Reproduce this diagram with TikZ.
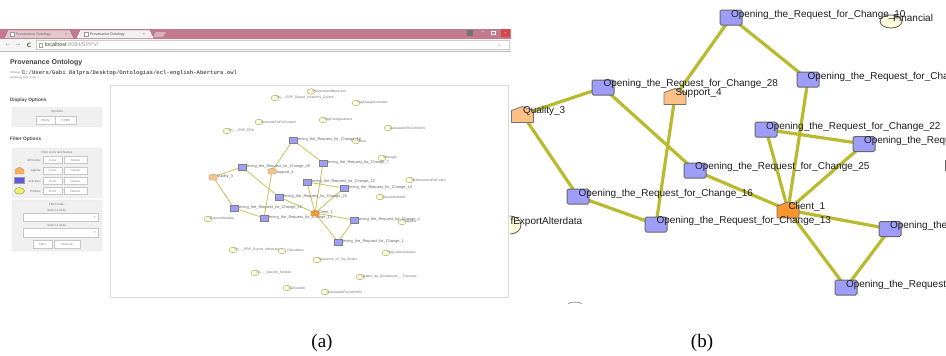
\documentclass[tikz,border=0pt]{standalone}
\usepackage{fontspec}
\setmainfont{Liberation Serif}
\newfontfamily\lsans{Liberation Sans}
\newfontfamily\lmono{Liberation Mono}
\newfontfamily\dejavu{DejaVu Sans}
\usetikzlibrary{calc,shapes.geometric}
\pgfdeclarelayer{bg}
\pgfdeclarelayer{edgelayer}
\pgfsetlayers{bg,edgelayer,main}
\definecolor{tabbar}{RGB}{196,122,142}
\definecolor{tabA}{RGB}{228,198,206}
\definecolor{tabB}{RGB}{244,238,240}
\definecolor{actblue}{RGB}{158,158,250}
\definecolor{legblue}{RGB}{90,90,230}
\definecolor{agentlt}{RGB}{253,192,135}
\definecolor{agentdk}{RGB}{248,150,48}
\definecolor{entfill}{RGB}{255,255,222}
\definecolor{entline}{RGB}{170,170,110}
\definecolor{legyel}{RGB}{240,240,110}
\definecolor{edgeol}{RGB}{186,186,48}
\definecolor{edgeAcol}{RGB}{200,200,105}
\definecolor{closered}{RGB}{214,72,72}
\newcommand\fsz[1]{\fontsize{#1}{#1}\selectfont}
\newcommand\agentB[3]{%
  \node[minimum width=22,minimum height=16] (#1) at (#2) {};
  \filldraw[fill=#3,draw=black!55,line width=0.8,line join=round]
    ($(#1)+(-11,8)$) -- ($(#1)+(11,8)$) -- ($(#1)+(11,-4)$) -- ($(#1)+(0,-8)$) -- ($(#1)+(-11,-4)$) -- cycle;}
\newcommand\agentA[3]{%
  \node[minimum width=8,minimum height=6] (#1) at (#2) {};
  \filldraw[fill=#3,draw=black!40,line width=0.4,line join=round]
    ($(#1)+(-4,3)$) -- ($(#1)+(4,3)$) -- ($(#1)+(4,-1.5)$) -- ($(#1)+(0,-3)$) -- ($(#1)+(-4,-1.5)$) -- cycle;}
\begin{document}
\begin{tikzpicture}[x=1pt,y=-1pt,
  every node/.style={inner sep=0pt,outer sep=0pt},
  tiny/.style={font=\lsans\fsz{3},text=black!55},
  btn/.style={draw=black!22,fill=white,line width=0.4,font=\lsans\fsz{3},text=black!50},
  optbox/.style={draw=black!12,fill=black!6,line width=0.4,rounded corners=1},
  actA/.style={draw=black!50,fill=actblue,minimum width=8,minimum height=5.5,line width=0.4},
  entA/.style={ellipse,draw=entline,fill=entfill,minimum width=8,minimum height=5.5,line width=0.5},
  lblA/.style={anchor=west,font=\lsans\fsz{3.9},text=black!60},
  elblA/.style={anchor=west,font=\lsans\fsz{3.4},text=black!55},
  edgeA/.style={draw=edgeAcol,line width=0.9},
  actB/.style={draw=black!60,fill=actblue,rounded corners=1.5,minimum width=22,minimum height=15,line width=1},
  entB/.style={ellipse,draw=black!65,fill=entfill,minimum width=22,minimum height=13,line width=0.8},
  lblB/.style={anchor=west,font=\lsans\fsz{10},text=black!88},
  edgeB/.style={draw=edgeol,line width=3.2},
  captxt/.style={font=\fsz{19}}]
\useasboundingbox (0,0) rectangle (946,356);
% ---------------- window chrome (a) ----------------
\begin{pgfonlayer}{bg}
\fill[white] (0,0) rectangle (946,356);
\fill[tabbar] (0,28.5) rectangle (511,38.5);
\filldraw[fill=tabA,draw=tabbar!70!black,line width=0.3] (4,38.5) -- (8,30) -- (70,30) -- (74,38.5) -- cycle;
\filldraw[fill=tabB,draw=tabbar!70!black,line width=0.3] (76,38.5) -- (80,30) -- (150,30) -- (154,38.5) -- cycle;
\fill[tabA!70!tabbar] (153,37) -- (156,32) -- (166,32) -- (163,37) -- cycle;
\fill[black!4] (0,38.5) rectangle (511,51);
\draw[black!25,line width=0.4] (0,51) -- (511,51);
\filldraw[fill=white,draw=black!20,line width=0.4] (36,40.5) rectangle (509,49.5);
\filldraw[fill=white,draw=black!15,line width=0.5] (110,85) rectangle (508,297);
\end{pgfonlayer}
% tabs
\node[draw=black!40,fill=white,minimum width=4,minimum height=4,line width=0.3] (fav1) at (12,34.3) {};
\node[anchor=west,font=\lsans\fsz{3.6},text=black!60] (tab1) at (16,34.3) {Provenance Ontology};
\node[font=\lsans\fsz{4},text=black!55] (x1) at (66,34.3) {×};
\node[draw=black!40,fill=white,minimum width=4,minimum height=4,line width=0.3] (fav2) at (86,34.3) {};
\node[anchor=west,font=\lsans\fsz{3.6},text=black!70] (tab2) at (90,34.3) {Provenance Ontology};
\node[font=\lsans\fsz{4},text=black!55] (x2) at (144,34.3) {×};
% window controls
\node[fill=black!55,minimum width=6,minimum height=6] (usr) at (470,33) {};
\node[font=\lsans\fsz{5},text=white] (min) at (483,33) {–};
\node[draw=white,minimum width=3.5,minimum height=3,line width=0.4] (max) at (493,33) {};
\node[fill=closered,minimum width=9,minimum height=8] (cls) at (505.5,33) {};
\node[font=\lsans\fsz{4},text=white] (clsx) at (505.5,33) {×};
% address bar
\node[font=\dejavu\fsz{5.5},text=black!35] (back) at (8,45) {←};
\node[font=\dejavu\fsz{5.5},text=black!35] (fwd) at (18,45) {→};
\node[font=\dejavu\bfseries\fsz{6},text=black!60] (rld) at (29,45) {C};
\node[draw=black!35,minimum width=3,minimum height=4,line width=0.3] (pg) at (41,45) {};
\node[anchor=west,font=\lsans\fsz{5.5},text=black!75] (url) at (45,45) {localhost\textcolor{black!40}{:8084/SPPV/}};
\node[font=\dejavu\fsz{6},text=black!35] (star) at (499,45) {☆};
% page header
\node[anchor=west,font=\lsans\bfseries\fsz{7},text=black!75] (title) at (10,63) {Provenance Ontology};
\node[anchor=west,font=\lsans\fsz{2.6},text=black!55] (ontl) at (10,73.3) {Ontology:};
\node[anchor=west,font=\lmono\bfseries\fsz{5.6},text=black!65] (path) at (22,73) {C:/Users/Gabi Dalpra/Desktop/Ontologias/ecl-english-Abertura.owl};
\node[anchor=west,font=\lsans\fsz{2.6},text=black!55] (rend) at (10,77.8) {Rendering Time: 1.121 s};
% display options
\node[anchor=west,font=\lsans\bfseries\fsz{4.8},text=black!70] (dopt) at (10,100) {Display Options};
\draw[optbox] (12,107.5) rectangle (102,126.5);
\node[tiny] (sym) at (57,112) {Symbols};
\node[btn,minimum width=19,minimum height=8] (prov) at (45.5,120) {PROV};
\node[btn,minimum width=21,minimum height=8] (epms) at (66,120) {EPMS};
% filter options
\node[anchor=west,font=\lsans\bfseries\fsz{4.8},text=black!70] (fopt) at (10,139) {Filter Options};
\draw[optbox] (12,148) rectangle (102,197.5);
\node[tiny] (fin) at (57,152.5) {Filter Icons and Names};
\foreach \i/\y/\t in {1/160/All Nodes:,2/170.5/Agents:,3/181/Activities:,4/191/Entities:} {
  \node[tiny,anchor=east] (row\i) at (41,\y) {\t};
  \node[btn,minimum width=19,minimum height=7] (ic\i) at (52.5,\y) {Icons};
  \node[btn,minimum width=23,minimum height=7] (nm\i) at (75.5,\y) {Names};
}
\node[minimum width=10,minimum height=8] (legag) at (19.5,170.5) {};
\filldraw[fill=agentdk!80,draw=black!35,line width=0.3] ($(legag)+(-4.5,3.5)$) -- ($(legag)+(4.5,3.5)$) -- ($(legag)+(4.5,-1)$) -- ($(legag)+(0,-3.5)$) -- ($(legag)+(-4.5,-1)$) -- cycle;
\node[fill=legblue,draw=black!40,minimum width=10,minimum height=6,line width=0.3] (legac) at (19.5,180.5) {};
\node[ellipse,fill=legyel,draw=entline!80!black,minimum width=10,minimum height=6.5,line width=0.4] (legen) at (19.5,190.8) {};
\draw[optbox] (12,200) rectangle (102,251);
\node[tiny] (fnode) at (57,204.5) {Filter Node:};
\node[tiny] (sel1) at (57,210.5) {Select a node:};
\node[btn,minimum width=75,minimum height=8.5] (dd1) at (60.5,217.3) {};
\node[font=\dejavu\fsz{3},text=black!45] (ar1) at (95,217.3) {▾};
\node[tiny] (sel2) at (57,225) {Select a node:};
\node[btn,minimum width=75,minimum height=8.5] (dd2) at (60.5,232.7) {};
\node[font=\dejavu\fsz{3},text=black!45] (ar2) at (95,232.7) {▾};
\node[btn,minimum width=19,minimum height=7.5] (fbtn) at (42.5,244.3) {Filter};
\node[btn,minimum width=26,minimum height=7.5] (sbtn) at (67,244.3) {Show all};
% ---------------- graph (a) ----------------
\foreach \n/\x/\y/\t in {
  1/311/91.5/ProcurementBase.xml,
  2/275/98/Pu\_..\_ERP\_Report\_Inventory\_Control,
  3/356/103/PayDesignConsider,
  4/259/122/GenerateTxtProControl,
  5/323/120/PayConfigurations,
  6/227/131/Pu\_..\_ERP\_PDA,
  7/388/128/CalculationPisCofinsR4,
  8/356/141/Pricer,
  9/382/158/Manager,
  10/410/180/RemovementPisCofins,
  11/380/197/CalculationNota,
  12/208/219/fExportAlterdata,
  13/402/222/Pagador,
  14/233/250/Pu\_..\_ERP\_Export\_Information,
  15/282/251/..\_Calculation,
  16/386/253/PayCodesSalaries,
  17/317/260/Sequence\_of\_Tax\_Books,
  18/255/273/Pu\_..\_Specific\_Module,
  19/360/277/Update\_da\_Distribuição\_..\_Parcelas,
  20/287/288/Calculation,
  21/325/292/CalculationPisCofinsR3} {
  \node[entA] (ea\n) at (\x,\y) {};
  \node[elblA] (ea\n t) at (\x+1.5,\y) {\t};
}
\foreach \n/\x/\y/\k in {10/293/140/10,X/323/163/7,28/242/167/28,22/307/182/22,Y/344/188/19,25/279/197/25,16/234/208/16,13/264/218/13,Z/354/220/4,W/338/242/1} {
  \node[lblA] (la\n) at (\x,\y-0.8) {Opening\_the\_Request\_for\_Change\_\k};
  \node[actA] (a\n) at (\x,\y) {};
}
\node[lblA] (laq3) at (216.5,176) {Quality\_3};
\node[lblA] (las4) at (275.5,172.5) {Support\_4};
\node[lblA] (lacl) at (318.5,212) {Client\_1};
\agentA{aq3}{213,177}{agentlt}
\agentA{as4}{272,171}{agentlt}
\agentA{acl}{315,213}{agentdk}
\begin{pgfonlayer}{edgelayer}
\foreach \u/\v in {aq3/a28,aq3/a16,a28/a25,as4/a10,as4/a13,a16/a13,a10/aX,aX/acl,a22/acl,a22/aY,aY/acl,a25/acl,acl/aZ,acl/aW,aZ/aW}
  \draw[edgeA] (\u.center) -- (\v.center);
\end{pgfonlayer}
% ---------------- graph (b) ----------------
\foreach \n/\x/\y/\k in {10/731/17.5/10,X/808/79.5/7,28/603/87.5/28,22/766/129.5/22,Y/864/144/19,25/695/170.5/25,16/578/196.5/16,13/656/224.5/13,Z/890/229/4,W/846/287.5/1} {
  \node[actB] (b\n) at (\x,\y) {};
}
\agentB{bq3}{522.5,114.5}{agentlt}
\agentB{bs4}{675,96.5}{agentlt}
\agentB{bcl}{788,210}{agentdk}
\node[entB] (bfin) at (891,21.5) {};
\draw[draw=black!65,fill=entfill,line width=0.8] (510,216) arc[start angle=-90,end angle=90,x radius=11,y radius=9];
\draw[draw=black!40,line width=0.8] (568,303.5) arc[start angle=-130,end angle=-50,x radius=11,y radius=6];
\draw[draw=black!60,line width=0.8] (945.3,160) -- (945.3,171);
\begin{pgfonlayer}{edgelayer}
\foreach \u/\v in {bq3/b28,bq3/b16,b28/b25,bs4/b10,bs4/b13,b16/b13,b10/bX,bX/bcl,b22/bcl,b22/bY,bY/bcl,b25/bcl,bcl/bZ,bcl/bW,bZ/bW}
  \draw[edgeB] (\u.center) -- (\v.center);
\end{pgfonlayer}
\foreach \n/\x/\y/\k in {10/731/14.5/10,X/807.5/76.5/7,28/603.5/84/28,22/766/126.5/22,Y/864/141/19,25/695/167.3/25,16/578.5/193.8/16,13/656.5/221.3/13,Z/890/225.8/4,W/846/284.8/1} {
  \node[lblB] (lb\n) at (\x,\y) {Opening\_the\_Request\_for\_Change\_\k};
}
\node[lblB] (lbq3) at (523,111) {Quality\_3};
\node[lblB] (lbs4) at (675.5,93) {Support\_4};
\node[lblB] (lbcl) at (788.5,206.5) {Client\_1};
\node[lblB] (lbfin) at (893,18) {Financial};
\node[lblB] (lbexp) at (510.5,222.3) {fExportAlterdata};
% ---------------- captions ----------------
\node[captxt] (capa) at (322,342.5) {(a)};
\node[captxt] (capb) at (702,342.5) {(b)};
\end{tikzpicture}
\end{document}
